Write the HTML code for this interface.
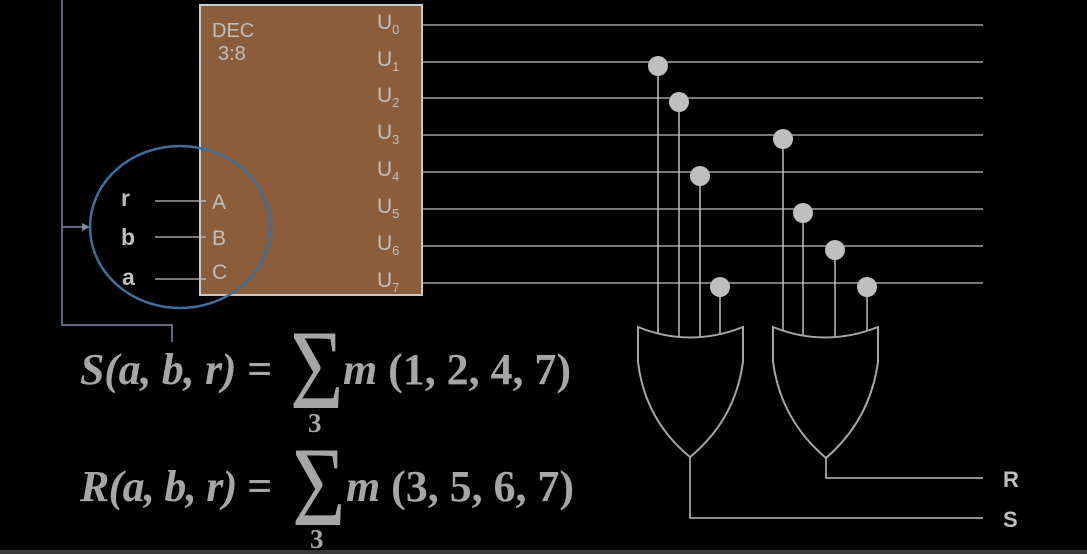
<!DOCTYPE html>
<html><head><meta charset="utf-8"><style>
html,body{margin:0;padding:0;background:#000;width:1087px;height:554px;overflow:hidden}
svg{display:block}
.t{font-family:"Liberation Sans",sans-serif;fill:#bfbfbf}
.eq{font-family:"Liberation Serif",serif;font-weight:bold;font-style:italic;fill:#a6a6a6;font-size:44px}
.sig{font-family:"Liberation Serif",serif;fill:#a6a6a6;font-size:100px;font-weight:normal}
.sub{font-family:"Liberation Serif",serif;font-weight:bold;fill:#a6a6a6;font-size:27px}
</style></head><body>
<svg width="1087" height="554" viewBox="0 0 1087 554">
<rect x="0" y="0" width="1087" height="554" fill="#000"/>
<rect x="0" y="550" width="1087" height="4" fill="#3a3a3a"/>
<g id="outlines" stroke="#bfbfbf" stroke-width="1.3"></g>
<rect x="200" y="5" width="222" height="290" fill="#8c5d3b" stroke="#c8c8c8" stroke-width="2"/>
<text class="t" x="212" y="37" font-size="20">DEC</text>
<text class="t" x="218" y="60" font-size="20">3:8</text>
<g id="ulabels"></g>
<g stroke="#bfbfbf" stroke-width="1.3">
<line x1="155" y1="201" x2="206" y2="201"/><line x1="155" y1="237" x2="206" y2="237"/><line x1="155" y1="279" x2="206" y2="279"/>
</g>
<text class="t" x="212" y="209" font-size="21">A</text>
<text class="t" x="212" y="245" font-size="21">B</text>
<text class="t" x="212" y="279" font-size="21">C</text>
<text class="t" x="121" y="206" font-size="23" font-weight="bold">r</text>
<text class="t" x="121" y="245" font-size="23" font-weight="bold">b</text>
<text class="t" x="122" y="285" font-size="23" font-weight="bold">a</text>
<ellipse cx="180" cy="227" rx="90" ry="81" fill="none" stroke="#3f6e98" stroke-width="2.5"/>
<polyline points="62,0 62,325 172,325 172,342" fill="none" stroke="#7c8aa0" stroke-width="1.5"/>
<line x1="62" y1="227" x2="84" y2="227" stroke="#7c8aa0" stroke-width="1.5"/>
<polygon points="90,227 82,223 82,231" fill="#7c8aa0"/>
<g id="taps"></g>
<path d="M638,327 Q690,348 743,327 L743,362 Q735,420 690,457 Q645,420 638,362 Z" fill="#000" stroke="#a6a6a6" stroke-width="2"/>
<path d="M773,327 Q825,348 878,327 L878,362 Q870,420 826,458 Q781,420 773,362 Z" fill="#000" stroke="#a6a6a6" stroke-width="2"/>
<polyline points="690,457 690,518 983,518" fill="none" stroke="#bfbfbf" stroke-width="1.5"/>
<polyline points="826,458 826,478 983,478" fill="none" stroke="#bfbfbf" stroke-width="1.5"/>
<text class="t" x="1003" y="487" font-size="22" font-weight="bold">R</text>
<text class="t" x="1003" y="527" font-size="22" font-weight="bold">S</text>
<text class="eq" x="80" y="384" textLength="192">S(a, b, r) =</text>
<text class="sig" transform="translate(290,408) scale(0.92,1.13)">Σ</text>
<text class="sub" x="308" y="432">3</text>
<text class="eq" x="343" y="384" textLength="228">m <tspan style="font-style:normal">(1, 2, 4, 7)</tspan></text>
<text class="eq" x="80" y="501" textLength="192">R(a, b, r) =</text>
<text class="sig" transform="translate(292,525) scale(0.92,1.13)">Σ</text>
<text class="sub" x="310" y="548">3</text>
<text class="eq" x="346" y="501" textLength="228">m <tspan style="font-style:normal">(3, 5, 6, 7)</tspan></text>
</svg>
<script>
const NS='http://www.w3.org/2000/svg';
const lineYs=[25,62,98,135,172,209,246,283];
const sTaps=[[658,1],[679,2],[700,4],[720,7]];
const rTaps=[[783,3],[803,5],[835,6],[867,7]];
const ol=document.getElementById('outlines');
lineYs.forEach((y,i)=>{const l=document.createElementNS(NS,'line');
l.setAttribute('x1',422);l.setAttribute('x2',983);l.setAttribute('y1',y);l.setAttribute('y2',y);


ol.appendChild(l);
const t=document.createElementNS(NS,'text');t.setAttribute('class','t');t.setAttribute('x',377);t.setAttribute('y',y+4);t.setAttribute('font-size','21');
t.innerHTML='U<tspan font-size="13" dy="5">'+i+'</tspan>';


document.getElementById('ulabels').appendChild(t);});
const tg=document.getElementById('taps');
[[sTaps,338],[rTaps,338]].forEach(([arr,bot])=>arr.forEach(([x,i])=>{
const y=lineYs[i]+4;
const l=document.createElementNS(NS,'line');l.setAttribute('x1',x);l.setAttribute('x2',x);l.setAttribute('y1',y);l.setAttribute('y2',bot);
l.setAttribute('stroke','#bfbfbf');l.setAttribute('stroke-width','1.5');


tg.appendChild(l);
const c=document.createElementNS(NS,'circle');c.setAttribute('cx',x);c.setAttribute('cy',y);c.setAttribute('r',10);c.setAttribute('fill','#bfbfbf');


tg.appendChild(c);}));
</script>
</body></html>
